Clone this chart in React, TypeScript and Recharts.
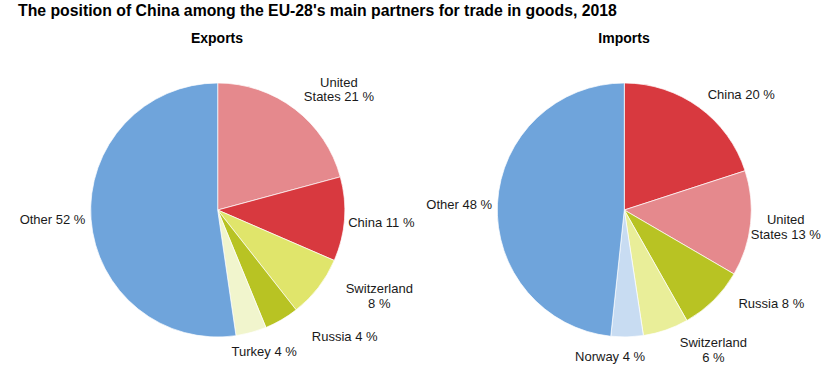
import { PieChart, Pie, Cell } from "recharts";

const EXPORT_PARTNERS = ["United States", "China", "Switzerland", "Russia", "Turkey", "Other"];
const EXPORT_SHARES = [20.8, 10.7, 7.9, 4.4, 3.9, 52.3];

const IMPORT_PARTNERS = ["China", "United States", "Russia", "Switzerland", "Norway", "Other"];
const IMPORT_SHARES = [20.0, 13.4, 8.4, 5.8, 4.1, 48.3];

const COLORS: Record<string, string> = {
  "United States": "#E5898D",
  China: "#D8393F",
  Russia: "#B8C323",
  Other: "#6FA4DB",
  Turkey: "#F1F5CD",
  Norway: "#C8DCF2",
};
const SWISS_EXPORT_COLOR = "#E0E56B";
const SWISS_IMPORT_COLOR = "#E9EE99";

// label nudges relative to the rim point at each slice's mid angle (Excel placed these by hand)
const EXPORT_NUDGE: Record<string, [number, number]> = {
  "United States": [44, -20],
  China: [37, 3],
  Switzerland: [61, 8],
  Russia: [63, 16],
  Turkey: [13, 18.5],
  Other: [-38.5, 0],
};
const IMPORT_NUDGE: Record<string, [number, number]> = {
  China: [42.3, -13],
  "United States": [35.2, 3],
  Russia: [57.8, 3],
  Switzerland: [47.6, 19.7],
  Norway: [-17, 19],
  Other: [-38.3, 1],
};

const RAD = Math.PI / 180;
const FONT = "'Liberation Sans', Arial, sans-serif";

function labelLines(name: string, value: number): string[] {
  const pct = `${Math.round(value)} %`;
  if (name === "United States") return ["United", `States ${pct}`];
  if (name === "Switzerland") return ["Switzerland", pct];
  return [`${name} ${pct}`];
}

function makeLabel(nudge: Record<string, [number, number]>) {
  return (props: any) => {
    const { cx, cy, midAngle, outerRadius, name, value } = props;
    const rx = cx + outerRadius * Math.cos(-midAngle * RAD);
    const ry = cy + outerRadius * Math.sin(-midAngle * RAD);
    const [dx, dy] = nudge[name] ?? [0, 0];
    const lines = labelLines(name, value);
    const lh = 14.5;
    const top = ry + dy - ((lines.length - 1) * lh) / 2;
    return (
      <text
        x={rx + dx}
        y={top}
        textAnchor="middle"
        dominantBaseline="central"
        fontSize={13}
        fontFamily={FONT}
        fill="#1a1a1a"
      >
        {lines.map((l, i) => (
          <tspan key={i} x={rx + dx} y={top + i * lh}>
            {l}
          </tspan>
        ))}
      </text>
    );
  };
}

const exportData = EXPORT_PARTNERS.map((name, i) => ({ name, value: EXPORT_SHARES[i] }));
const importData = IMPORT_PARTNERS.map((name, i) => ({ name, value: IMPORT_SHARES[i] }));

const headStyle = {
  position: "absolute" as const,
  width: 200,
  top: 30,
  textAlign: "center" as const,
  fontSize: 14,
  fontWeight: "bold" as const,
};

export default function App() {
  return (
    <div
      style={{
        position: "absolute",
        left: 0,
        top: 0,
        width: 826,
        height: 376,
        background: "#fff",
        fontFamily: FONT,
      }}
    >
      <div
        style={{
          position: "absolute",
          left: 18,
          top: 2,
          fontSize: 15.8,
          fontWeight: "bold",
          whiteSpace: "nowrap",
          color: "#000",
        }}
      >
        The position of China among the EU-28's main partners for trade in goods, 2018
      </div>
      <div style={{ ...headStyle, left: 117 }}>Exports</div>
      <div style={{ ...headStyle, left: 524 }}>Imports</div>
      <div style={{ position: "absolute", left: 0, top: 0 }}>
        <PieChart width={826} height={376} margin={{ top: 0, right: 0, bottom: 0, left: 0 }}>
          <Pie
            data={exportData}
            dataKey="value"
            nameKey="name"
            cx={217.7}
            cy={210}
            outerRadius={127}
            startAngle={90}
            endAngle={-270}
            stroke="#fff"
            strokeWidth={0.7}
            labelLine={false}
            label={makeLabel(EXPORT_NUDGE)}
            isAnimationActive={false}
          >
            {exportData.map((d) => (
              <Cell key={d.name} fill={d.name === "Switzerland" ? SWISS_EXPORT_COLOR : COLORS[d.name]} />
            ))}
          </Pie>
          <Pie
            data={importData}
            dataKey="value"
            nameKey="name"
            cx={624.3}
            cy={210}
            outerRadius={127}
            startAngle={90}
            endAngle={-270}
            stroke="#fff"
            strokeWidth={0.7}
            labelLine={false}
            label={makeLabel(IMPORT_NUDGE)}
            isAnimationActive={false}
          >
            {importData.map((d) => (
              <Cell key={d.name} fill={d.name === "Switzerland" ? SWISS_IMPORT_COLOR : COLORS[d.name]} />
            ))}
          </Pie>
        </PieChart>
      </div>
    </div>
  );
}
